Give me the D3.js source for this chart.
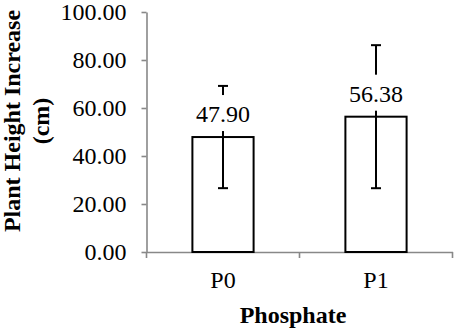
<!DOCTYPE html>
<html>
<head>
<meta charset="utf-8">
<script src="https://cdn.jsdelivr.net/npm/d3@7"></script>
<style>
    body { margin: 0; background: #fff; }
    svg text { font-family: "Liberation Serif", "Times New Roman", serif; fill: #000; }
</style>
</head>
<body>
<svg width="457" height="332"></svg>
<script>
var categories = ["P0", "P1"];
var means = [47.90, 56.38];
var errors = [21.3, 29.8];
var yTicks = [0, 20, 40, 60, 80, 100];

(() => {
    var width = 457;
    var height = 332;
    var margin = {top: 12, bottom: 80, left: 146.5, right: 4.5};
    var serif = '"Liberation Serif", "Times New Roman", serif';

    var data = categories.map((c, i) => ({cat: c, mean: means[i], err: errors[i]}));

    var svg = d3.select('svg');

    //scales
    var xScale = d3.scaleBand()
        .domain(categories)
        .range([margin.left, width - margin.right])
        .padding(0);
    var yScale = d3.scaleLinear()
        .domain([0, 100])
        .range([height - margin.bottom, margin.top]);

    var barWidth = xScale.bandwidth() * 0.4;
    var cx = d => xScale(d.cat) + xScale.bandwidth() / 2;

    //axes
    var yAxis = d3.axisLeft(yScale)
        .tickValues(yTicks)
        .tickFormat(d3.format('.2f'))
        .tickSizeInner(5)
        .tickSizeOuter(0)
        .tickPadding(15);
    var gy = svg.append('g')
        .attr('transform', 'translate(' + [margin.left, 0] + ')')
        .call(yAxis);

    var xAxis = d3.axisBottom(xScale)
        .tickSize(0)
        .tickPadding(19);
    var gx = svg.append('g')
        .attr('transform', 'translate(' + [0, height - margin.bottom] + ')')
        .call(xAxis);

    // category separators, Excel style
    gx.selectAll('.sep')
        .data([margin.left, xScale('P1'), width - margin.right])
        .enter().append('line')
        .attr('class', 'sep')
        .attr('x1', d => d).attr('x2', d => d)
        .attr('y1', 0).attr('y2', 6);

    [gx, gy].forEach(g => {
        g.attr('font-family', serif).attr('font-size', 24);
        g.selectAll('.domain, line').attr('stroke', '#888').attr('stroke-width', 1.6);
        g.selectAll('text').attr('fill', '#000');
    });

    //bars
    svg.selectAll('rect.bar')
        .data(data)
        .enter().append('rect')
        .attr('class', 'bar')
        .attr('x', d => cx(d) - barWidth / 2)
        .attr('y', d => yScale(d.mean))
        .attr('width', barWidth)
        .attr('height', d => yScale(0) - yScale(d.mean))
        .attr('fill', 'white')
        .attr('stroke', 'black')
        .attr('stroke-width', 2);

    //error bars
    var eb = svg.selectAll('g.err')
        .data(data)
        .enter().append('g')
        .attr('class', 'err')
        .attr('stroke', 'black')
        .attr('stroke-width', 2);
    eb.append('line')
        .attr('x1', cx).attr('x2', cx)
        .attr('y1', d => yScale(d.mean - d.err))
        .attr('y2', d => yScale(d.mean + d.err));
    eb.append('line')
        .attr('x1', d => cx(d) - 5).attr('x2', d => cx(d) + 5)
        .attr('y1', d => yScale(d.mean + d.err))
        .attr('y2', d => yScale(d.mean + d.err));
    eb.append('line')
        .attr('x1', d => cx(d) - 5).attr('x2', d => cx(d) + 5)
        .attr('y1', d => yScale(d.mean - d.err))
        .attr('y2', d => yScale(d.mean - d.err));

    //value labels on white boxes
    svg.selectAll('rect.lblbg')
        .data(data)
        .enter().append('rect')
        .attr('class', 'lblbg')
        .attr('x', d => cx(d) - 30)
        .attr('y', d => yScale(d.mean) - 15 - 27)
        .attr('width', 60)
        .attr('height', 36)
        .attr('fill', 'white');
    svg.selectAll('text.lbl')
        .data(data)
        .enter().append('text')
        .attr('class', 'lbl')
        .attr('x', cx)
        .attr('y', d => yScale(d.mean) - 15)
        .attr('text-anchor', 'middle')
        .attr('font-size', 24)
        .text(d => d3.format('.2f')(d.mean));

    //titles
    svg.append('text')
        .attr('transform', 'translate(20,121) rotate(-90)')
        .attr('text-anchor', 'middle')
        .attr('font-size', 24)
        .attr('font-weight', 'bold')
        .text('Plant Height Increase');
    svg.append('text')
        .attr('transform', 'translate(49,121) rotate(-90)')
        .attr('text-anchor', 'middle')
        .attr('font-size', 24)
        .attr('font-weight', 'bold')
        .text('(cm)');
    svg.append('text')
        .attr('x', 293)
        .attr('y', 323)
        .attr('text-anchor', 'middle')
        .attr('font-size', 24)
        .attr('font-weight', 'bold')
        .text('Phosphate');
})();
</script>
</body>
</html>
